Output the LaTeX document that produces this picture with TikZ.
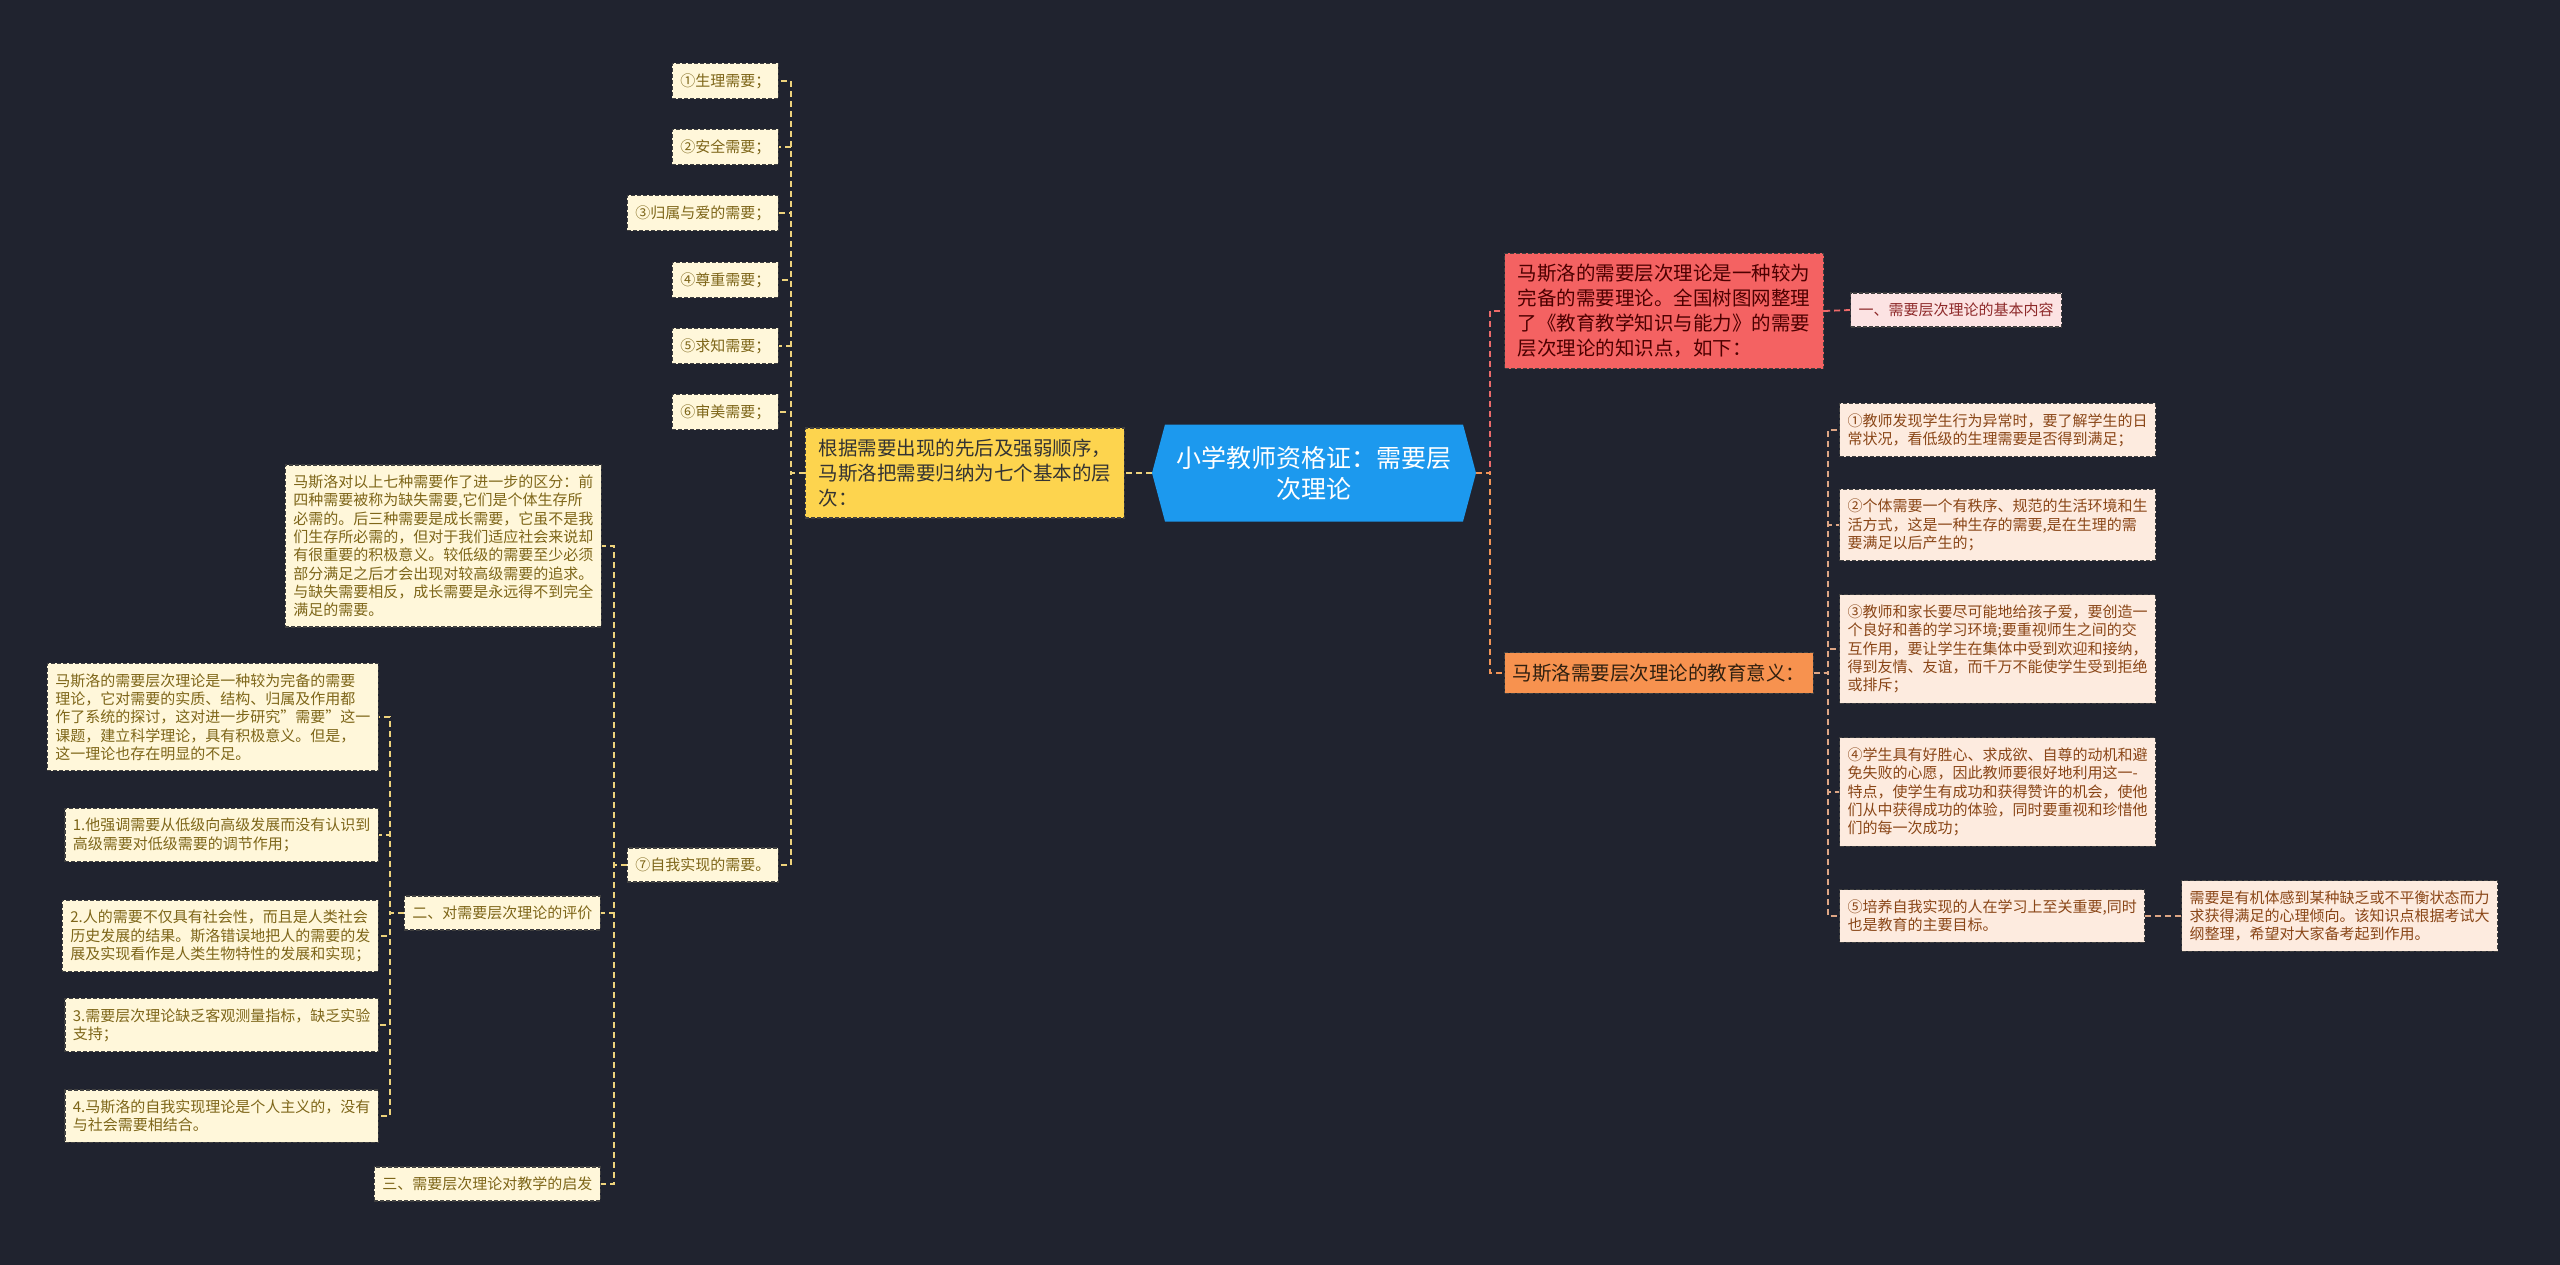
\documentclass[tikz,border=0pt]{standalone}
\usepackage{fontspec}
\setmainfont{Noto Sans CJK SC}
\usepackage{xcolor}
\usepackage{tikz}
\usetikzlibrary{shapes, shapes.symbols, positioning, calc}

\definecolor{bgnavy}{HTML}{20232F}
\definecolor{rootblue}{HTML}{1C99EE}
\definecolor{mainyellow}{HTML}{FDD44E}
\definecolor{mainred}{HTML}{F46262}
\definecolor{mainorange}{HTML}{F7924F}
\definecolor{leafcream}{HTML}{FFF7DA}
\definecolor{leafolive}{HTML}{7E6619}
\definecolor{leafpeach}{HTML}{FDEBDF}
\definecolor{leafbrown}{HTML}{8A4617}
\definecolor{leafpink}{HTML}{FCE3E3}
\definecolor{leafmaroon}{HTML}{8E2A2A}
\definecolor{linkyellow}{HTML}{EED37C}
\definecolor{linkred}{HTML}{EE6A6A}
\definecolor{linkorange}{HTML}{F29456}
\definecolor{linkpeach}{HTML}{DDA584}

\begin{document}
\begin{tikzpicture}[x=1pt, y=-1pt,
  box/.style={draw=black!75, dash pattern=on 4pt off 2pt, line width=1.2pt, rectangle, inner xsep=8pt, inner ysep=10pt, align=left},
  leafL/.style={box, fill=leafcream, text=leafolive, font=\fontsize{15}{18.3}\selectfont},
  leafR/.style={box, fill=leafpeach, text=leafbrown, font=\fontsize{15}{18.3}\selectfont},
  mainbox/.style={box, inner ysep=11pt, font=\fontsize{19.5}{25}\selectfont},
  rootbox/.style={signal, signal to=west and east, signal pointer angle=150, fill=rootblue, text=white, align=center, minimum width=324pt, minimum height=97pt, font=\fontsize{25}{31}\selectfont},
  link/.style={line width=1.8pt, dash pattern=on 6pt off 4pt}
]
\fill[bgnavy] (0,0) rectangle (2560,1265);

% root and main branches
\node[rootbox] (root) at (1314,473) {小学教师资格证：需要层\\次理论};
\node[mainbox, fill=mainyellow, text=black!80, minimum width=319pt, anchor=east] (yel) at (1125,473) {根据需要出现的先后及强弱顺序，\\马斯洛把需要归纳为七个基本的层\\次：};
\node[mainbox, fill=mainred, text=black!70!red, minimum width=319pt, anchor=west] (red) at (1504,311) {马斯洛的需要层次理论是一种较为\\完备的需要理论。全国树图网整理\\了《教育教学知识与能力》的需要\\层次理论的知识点，如下：};
\node[mainbox, fill=mainorange, text=black!75!brown, anchor=west] (org) at (1504,673) {马斯洛需要层次理论的教育意义：};

% seven needs
\node[leafL, anchor=east] (n1) at (779,81) {①生理需要；};
\node[leafL, anchor=east] (n2) at (779,147) {②安全需要；};
\node[leafL, anchor=east] (n3) at (779,213) {③归属与爱的需要；};
\node[leafL, anchor=east] (n4) at (779,280) {④尊重需要；};
\node[leafL, anchor=east] (n5) at (779,346) {⑤求知需要；};
\node[leafL, anchor=east] (n6) at (779,412) {⑥审美需要；};
\node[leafL, anchor=east] (n7) at (779,865) {⑦自我实现的需要。};

\node[leafL, anchor=east] (desc) at (602,546) {马斯洛对以上七种需要作了进一步的区分：前\\四种需要被称为缺失需要,它们是个体生存所\\必需的。后三种需要是成长需要，它虽不是我\\们生存所必需的，但对于我们适应社会来说却\\有很重要的积极意义。较低级的需要至少必须\\部分满足之后才会出现对较高级需要的追求。\\与缺失需要相反，成长需要是永远得不到完全\\满足的需要。};
\node[leafL, anchor=east] (eval) at (601,913) {二、对需要层次理论的评价};
\node[leafL, anchor=east] (teach) at (601,1184) {三、需要层次理论对教学的启发};

\node[leafL, anchor=east] (e0) at (379,717) {马斯洛的需要层次理论是一种较为完备的需要\\理论，它对需要的实质、结构、归属及作用都\\作了系统的探讨，这对进一步研究"需要"这一\\课题，建立科学理论，具有积极意义。但是，\\这一理论也存在明显的不足。};
\node[leafL, anchor=east] (e1) at (379,835) {1.他强调需要从低级向高级发展而没有认识到\\高级需要对低级需要的调节作用；};
\node[leafL, anchor=east] (e2) at (379,936) {2.人的需要不仅具有社会性，而且是人类社会\\历史发展的结果。斯洛错误地把人的需要的发\\展及实现看作是人类生物特性的发展和实现；};
\node[leafL, anchor=east] (e3) at (379,1025) {3.需要层次理论缺乏客观测量指标，缺乏实验\\支持；};
\node[leafL, anchor=east] (e4) at (379,1116) {4.马斯洛的自我实现理论是个人主义的，没有\\与社会需要相结合。};

% right side
\node[box, fill=leafpink, text=leafmaroon, font=\fontsize{15}{18.3}\selectfont, anchor=west] (basic) at (1850,310) {一、需要层次理论的基本内容};

\node[leafR, anchor=west] (r1) at (1839,430) {①教师发现学生行为异常时，要了解学生的日\\常状况，看低级的生理需要是否得到满足；};
\node[leafR, anchor=west] (r2) at (1839,525) {②个体需要一个有秩序、规范的生活环境和生\\活方式，这是一种生存的需要,是在生理的需\\要满足以后产生的；};
\node[leafR, anchor=west] (r3) at (1839,649) {③教师和家长要尽可能地给孩子爱，要创造一\\个良好和善的学习环境;要重视师生之间的交\\互作用，要让学生在集体中受到欢迎和接纳，\\得到友情、友谊，而千万不能使学生受到拒绝\\或排斥；};
\node[leafR, anchor=west] (r4) at (1839,792) {④学生具有好胜心、求成欲、自尊的动机和避\\免失败的心愿，因此教师要很好地利用这一-\\特点，使学生有成功和获得赞许的机会，使他\\们从中获得成功的体验，同时要重视和珍惜他\\们的每一次成功；};
\node[leafR, anchor=west] (r5) at (1839,916) {⑤培养自我实现的人在学习上至关重要,同时\\也是教育的主要目标。};
\node[leafR, anchor=west] (note) at (2181,916) {需要是有机体感到某种缺乏或不平衡状态而力\\求获得满足的心理倾向。该知识点根据考试大\\纲整理，希望对大家备考起到作用。};

% connectors, left
\draw[link, linkyellow] (root.west) -- (yel.east);
\draw[link, linkyellow] (yel.west) -- ++(-14,0) |- (n1.east);
\draw[link, linkyellow] (yel.west) -- ++(-14,0) |- (n2.east);
\draw[link, linkyellow] (yel.west) -- ++(-14,0) |- (n3.east);
\draw[link, linkyellow] (yel.west) -- ++(-14,0) |- (n4.east);
\draw[link, linkyellow] (yel.west) -- ++(-14,0) |- (n5.east);
\draw[link, linkyellow] (yel.west) -- ++(-14,0) |- (n6.east);
\draw[link, linkyellow] (yel.west) -- ++(-14,0) |- (n7.east);
\draw[link, linkyellow] (n7.west) -- ++(-13,0) |- (desc.east);
\draw[link, linkyellow] (n7.west) -- ++(-13,0) |- (eval.east);
\draw[link, linkyellow] (n7.west) -- ++(-13,0) |- (teach.east);
\draw[link, linkyellow] (eval.west) -- ++(-14,0) |- (e0.east);
\draw[link, linkyellow] (eval.west) -- ++(-14,0) |- (e1.east);
\draw[link, linkyellow] (eval.west) -- ++(-14,0) |- (e2.east);
\draw[link, linkyellow] (eval.west) -- ++(-14,0) |- (e3.east);
\draw[link, linkyellow] (eval.west) -- ++(-14,0) |- (e4.east);

% connectors, right
\draw[link, linkred] (root.east) -- ++(14,0) |- (red.west);
\draw[link, linkorange] (root.east) -- ++(14,0) |- (org.west);
\draw[link, linkred] (red.east) -- (basic.west);
\draw[link, linkpeach] (org.east) -- ++(14,0) |- (r1.west);
\draw[link, linkpeach] (org.east) -- ++(14,0) |- (r2.west);
\draw[link, linkpeach] (org.east) -- ++(14,0) |- (r3.west);
\draw[link, linkpeach] (org.east) -- ++(14,0) |- (r4.west);
\draw[link, linkpeach] (org.east) -- ++(14,0) |- (r5.west);
\draw[link, linkpeach] (r5.east) -- (note.west);
\end{tikzpicture}
\end{document}
